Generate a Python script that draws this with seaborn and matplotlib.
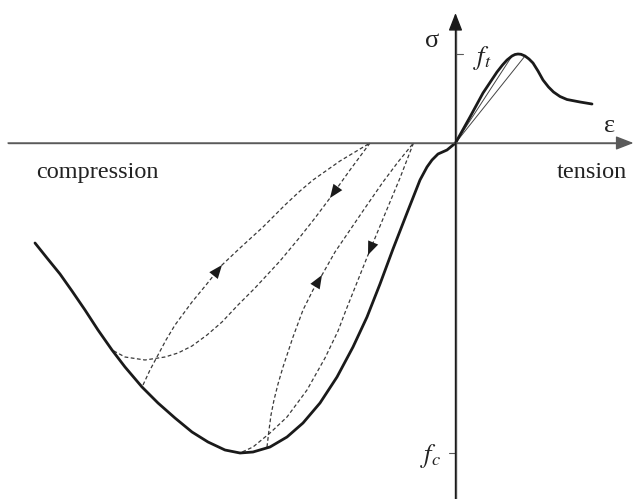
import numpy as np
import pandas as pd
import matplotlib
matplotlib.use("Agg")
import matplotlib.pyplot as plt
import seaborn as sns

sns.set_style("white")
plt.rcParams["font.family"] = ["Liberation Serif", "DejaVu Serif"]
plt.rcParams["mathtext.fontset"] = "stix"

# Characteristic strengths (stress units of the sketch)
f_t = 89
f_c = -310

# Monotonic envelope, compression branch (strain, stress)
comp_eps = [-420.5, -408.5, -395.5, -383.5, -370.5, -357.5, -343.5, -330.5, -313.5,
            -297.5, -280.5, -263.5, -247.5, -230.5, -215.5, -202.5, -185.5, -168.5,
            -152.5, -135.5, -118.5, -102.5, -88.5, -75.5, -62.5, -48.5, -35.5,
            -28.5, -23.5, -17.5, -8.5, 0.0]
comp_sig = [-100, -115, -131, -148, -167, -187, -207, -224, -244,
            -260, -275, -289, -299, -307, f_c, -309, -304, -294,
            -280, -260, -234, -204, -174, -141, -106, -70, -37,
            -24, -17, -11, -7, 0]

# Monotonic envelope, tension branch with softening
tens_eps = [0.0, 14.5, 27.5, 41.5, 47.0, 51.5, 56.5, 59.5, 62.5, 65.5, 69.5,
            73.5, 77.5, 82.5, 87.5, 93.0, 98.0, 104.5, 111.5, 124.5, 136.5]
tens_sig = [0, 26, 50, 71, 78, 83, 87, 88.5, f_t, 88.7, 87,
            84, 80, 72, 63, 56, 51, 46.5, 43.5, 41, 39]

# Secant stiffness lines in tension (end points on the envelope)
secant_eps = [56.5, 69.5]
secant_sig = [87, 87]

# Unloading / reloading cycles
loopA_up_eps = [-312.5, -305.5, -297.5, -289.5, -280.5, -263.5, -249.5, -233.5,
                -215.5, -192.5, -170.5, -155.5, -142.5, -115.5, -85.5]
loopA_up_sig = [-242, -227, -212, -197, -182, -159, -142, -122,
                -105, -84, -62, -48, -37, -18, 0]

loopA_dn_eps = [-85.5, -105.5, -125.5, -140.5, -155.5, -175.5, -200.5, -217.5,
                -233.5, -248.5, -263.5, -277.5, -290.5, -310.5, -330.5, -343.5]
loopA_dn_sig = [0, -27, -55, -75, -94, -118, -145, -162,
                -179, -192, -203, -210, -214, -217, -214, -207]

loopB_dn_eps = [-42.0, -55.5, -70.5, -87.5, -99.5, -109.5, -117.5, -130.5,
                -148.5, -168.5, -185.5, -202.5, -215.5]
loopB_dn_sig = [0, -35, -71, -112, -142, -167, -188, -215,
                -247, -274, -290, -304, -310]

loopB_up_eps = [-188.5, -186.5, -184.5, -181.5, -177.5, -172.5, -162.5, -152.5,
                -142.5, -133.5, -120.5, -105.5, -90.5, -72.5, -57.5, -42.0]
loopB_up_sig = [-304, -287, -272, -257, -241, -224, -194, -167,
                -147, -132, -109, -87, -65, -39, -19, 0]

# (curve, index of arrow tip) for direction markers on the cycles
loops = [
    (loopA_up_eps, loopA_up_sig, 7),
    (loopA_dn_eps, loopA_dn_sig, 2),
    (loopB_dn_eps, loopB_dn_sig, 3),
    (loopB_up_eps, loopB_up_sig, 9),
]

ink = "#1a1a1a"
axis_col = "#5a5a5a"
dash_col = "#3a3a3a"

fig = plt.figure(figsize=(6.33, 4.99), dpi=100)
ax = fig.add_axes([0, 0, 1, 1])
ax.set_xlim(-455.5, 177.5)
ax.set_ylim(-356, 143)
ax.axis("off")

# coordinate axes with arrow heads
ax.annotate("", xy=(178, 0), xytext=(-447.5, 0),
            arrowprops=dict(arrowstyle="-|>,head_length=0.9,head_width=0.35",
                            color=axis_col, lw=1.0, shrinkA=0, shrinkB=0,
                            mutation_scale=12))
ax.annotate("", xy=(0, 130), xytext=(0, -356),
            arrowprops=dict(arrowstyle="-|>,head_length=0.9,head_width=0.35",
                            color=ink, lw=1.0, shrinkA=0, shrinkB=0,
                            mutation_scale=12))
ax.plot([-447.5, 170], [0, 0], color=axis_col, lw=1.0)
ax.plot([0, 0], [-356, 120], color=axis_col, lw=1.0)

# strength ticks
ax.plot([0, 7], [f_t, f_t], color=axis_col, lw=0.8)
ax.plot([-7, 0], [f_c, f_c], color=axis_col, lw=0.8)

# secant lines
for e, s in zip(secant_eps, secant_sig):
    ax.plot([0, e], [0, s], color="#444444", lw=0.7)

# cycles
dash = (0, (3, 2))
for ex, sy, k in loops:
    df = pd.DataFrame({"eps": ex, "sig": sy})
    sns.lineplot(data=df, x="eps", y="sig", sort=False, estimator=None, ax=ax,
                 color=dash_col, lw=0.9, linestyle=dash,
                 dash_joinstyle="round")
    tip = np.array([ex[k], sy[k]], dtype=float)
    prev = np.array([ex[k - 1], sy[k - 1]], dtype=float)
    d = (tip - prev) / np.linalg.norm(tip - prev)
    ax.annotate("", xy=tuple(tip), xytext=tuple(tip - d * 2),
                arrowprops=dict(arrowstyle="-|>,head_length=0.75,head_width=0.3",
                                color=ink, lw=0, shrinkA=0, shrinkB=0,
                                mutation_scale=13))

# envelope
env = pd.DataFrame({"eps": comp_eps, "sig": comp_sig})
sns.lineplot(data=env, x="eps", y="sig", sort=False, estimator=None, ax=ax,
             color=ink, lw=2.0, solid_joinstyle="round", solid_capstyle="round")
ten = pd.DataFrame({"eps": tens_eps, "sig": tens_sig})
sns.lineplot(data=ten, x="eps", y="sig", sort=False, estimator=None, ax=ax,
             color=ink, lw=2.0, solid_joinstyle="round", solid_capstyle="round")

# labels
txt = dict(color="#222222", ha="center", va="center")
ax.text(-23.5, 102, "σ", fontsize=19, **txt)
ax.text(154.5, 17, "ε", fontsize=19, **txt)
ax.text(27, 85, r"$f_t$", fontsize=19, **txt)
ax.text(-25, -313, r"$f_c$", fontsize=19, **txt)
ax.text(-358.5, -29, "compression", fontsize=17.5, **txt)
ax.text(136.5, -29, "tension", fontsize=17.5, **txt)

fig.savefig("out.png", dpi=100, facecolor="white")
